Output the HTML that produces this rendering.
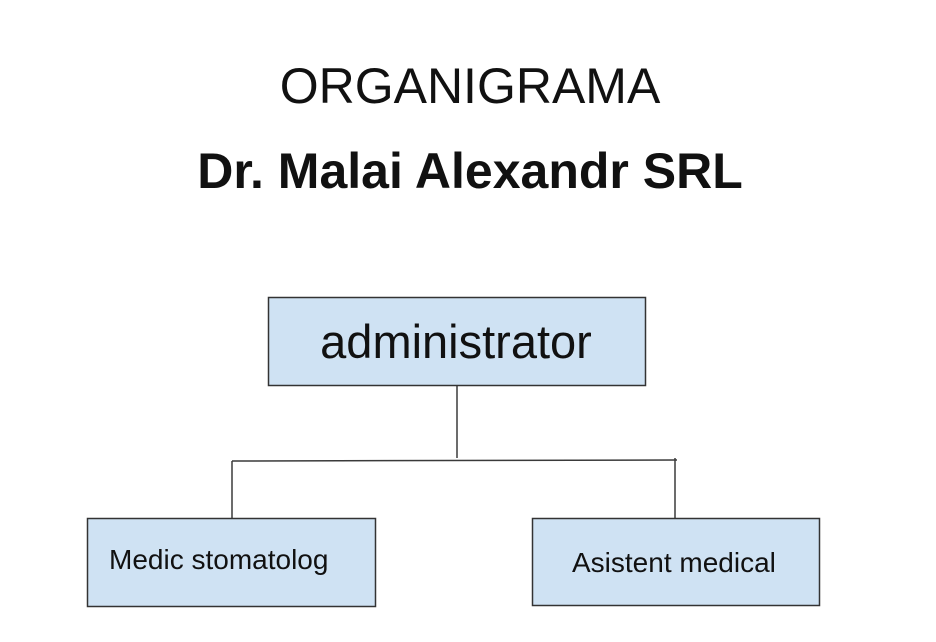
<!DOCTYPE html>
<html>
<head>
<meta charset="utf-8">
<style>
  html,body{margin:0;padding:0;background:#fff;}
  svg{display:block;}
  text{font-family:"Liberation Sans", Arial, sans-serif; fill:#111;}
</style>
</head>
<body>
<svg width="936" height="642" viewBox="0 0 936 642" xmlns="http://www.w3.org/2000/svg">
  <rect x="0" y="0" width="936" height="642" fill="#ffffff"/>
  <text x="470" y="103" font-size="50" text-anchor="middle">ORGANIGRAMA</text>
  <text x="470" y="188" font-size="50" font-weight="bold" text-anchor="middle">Dr. Malai Alexandr SRL</text>

  <!-- connectors -->
  <g stroke="#3a3a3a" stroke-width="1.5" fill="none">
    <line x1="457" y1="386" x2="457" y2="458"/>
    <line x1="232" y1="461" x2="677" y2="460"/>
    <line x1="232" y1="461" x2="232" y2="518"/>
    <line x1="675" y1="458" x2="675" y2="518"/>
  </g>

  <!-- boxes -->
  <rect x="268.5" y="297.5" width="377" height="88" fill="#cfe2f3" stroke="#333" stroke-width="1.5"/>
  <text x="456" y="358" font-size="47" text-anchor="middle">administrator</text>

  <rect x="87.5" y="518.5" width="288" height="88" fill="#cfe2f3" stroke="#333" stroke-width="1.5"/>
  <text x="109" y="569" font-size="28">Medic stomatolog</text>

  <rect x="532.5" y="518.5" width="287" height="87" fill="#cfe2f3" stroke="#333" stroke-width="1.5"/>
  <text x="572" y="572" font-size="28">Asistent medical</text>
</svg>
</body>
</html>
